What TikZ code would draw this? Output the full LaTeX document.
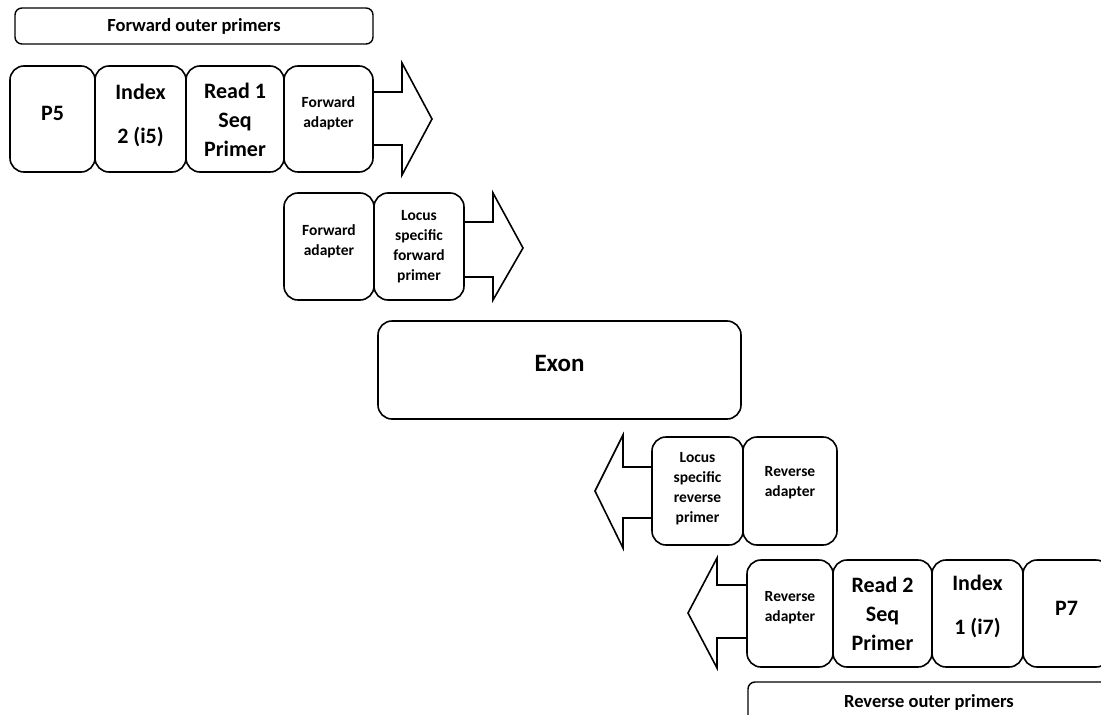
\documentclass[tikz,border=0pt]{standalone}
\usepackage{fontspec}
\setmainfont{Carlito}
\usetikzlibrary{positioning}

\tikzset{
  seg/.style={draw, line width=1.6pt, rounded corners=14pt, inner sep=0pt,
    outer sep=0pt, fill=white},
  bar/.style={draw, line width=1.4pt, rounded corners=7pt, inner sep=0pt, outer sep=0pt},
  txt/.style={align=center, inner sep=0pt},
  big/.style={txt, font=\bfseries\fontsize{22}{29}\selectfont},
  small/.style={txt, font=\bfseries\fontsize{15.5}{20}\selectfont},
  fatarrow/.style={draw, line width=1.6pt, line join=miter}
}

\begin{document}
\begin{tikzpicture}[x=1pt,y=-1pt]

  \useasboundingbox (0,0) rectangle (1101,715);
  \clip (0,0) rectangle (1101,715);

  % forward outer primers
  \node[bar, minimum width=358, minimum height=36, font=\bfseries\fontsize{18.5}{22}\selectfont]
    (fop) at (194,26) {Forward outer primers};

  % row 1
  \begin{scope}[every node/.style={seg, minimum height=106}]
    \node[minimum width=85] (p5) at (52.5,119) {};
    \node[minimum width=91, right=0pt of p5] (i5) {};
    \node[minimum width=98, right=0pt of i5] (r1) {};
    \node[minimum width=89, right=0pt of r1] (fa1) {};
  \end{scope}
  \node[big] (p5t) at ([yshift=6]p5.center) {P5};
  \node[big] (i5t) at ([yshift=4]i5.center) {Index\\[15pt]2 (i5)};
  \node[big] (r1t) at ([yshift=-1]r1.center) {Read 1\\Seq\\Primer};
  \node[small] (fa1t) at ([yshift=6]fa1.center) {Forward\\adapter};
  \draw[fatarrow] (373,92) -- (402,92) -- (402,63) -- (432,119)
    -- (402,175) -- (402,145) -- (373,145);

  % row 2
  \begin{scope}[every node/.style={seg, minimum height=107}]
    \node[minimum width=90] (fa2) at (329,246.5) {};
    \node[minimum width=90, right=0pt of fa2] (lf) {};
  \end{scope}
  \node[small] (fa2t) at ([yshift=5]fa2.center) {Forward\\adapter};
  \node[small] (lft) at (lf.center) {Locus\\specific\\forward\\primer};
  \draw[fatarrow] (464,222) -- (493,222) -- (493,193) -- (523,248)
    -- (493,300) -- (493,277) -- (464,277);

  % exon
  \node[seg, minimum width=363, minimum height=98] (exon) at (559.5,370) {};
  \node[txt, font=\bfseries\fontsize{25}{30}\selectfont] (exont) at ([yshift=7]exon.center) {Exon};

  % row 3
  \begin{scope}[every node/.style={seg, minimum height=108}]
    \node[minimum width=91] (lr) at (697.5,491) {};
    \node[minimum width=94, right=0pt of lr] (ra1) {};
  \end{scope}
  \node[small] (lrt) at ([yshift=2]lr.center) {Locus\\specific\\reverse\\primer};
  \node[small] (ra1t) at ([yshift=8]ra1.center) {Reverse\\adapter};
  \draw[fatarrow] (652,467) -- (623,467) -- (623,435) -- (595,491)
    -- (623,548) -- (623,518) -- (652,518);

  % row 4
  \begin{scope}[every node/.style={seg, minimum height=107}]
    \node[minimum width=86] (ra2) at (790,613.5) {};
    \node[minimum width=99, right=0pt of ra2] (r2) {};
    \node[minimum width=91, right=0pt of r2] (i7) {};
    \node[minimum width=87, right=0pt of i7] (p7) {};
  \end{scope}
  \node[small] (ra2t) at ([yshift=6]ra2.center) {Reverse\\adapter};
  \node[big] (r2t) at (r2.center) {Read 2\\Seq\\Primer};
  \node[big] (i7t) at ([yshift=7]i7.center) {Index\\[15pt]1 (i7)};
  \node[big] (p7t) at ([yshift=5]p7.center) {P7};
  \draw[fatarrow] (747,585) -- (717,585) -- (717,558) -- (688,613)
    -- (717,668) -- (717,638) -- (747,638);

  % reverse outer primers
  \node[bar, minimum width=362, minimum height=40, font=\bfseries\fontsize{18.5}{22}\selectfont]
    (rop) at (929,702) {Reverse outer primers};

\end{tikzpicture}
\end{document}
